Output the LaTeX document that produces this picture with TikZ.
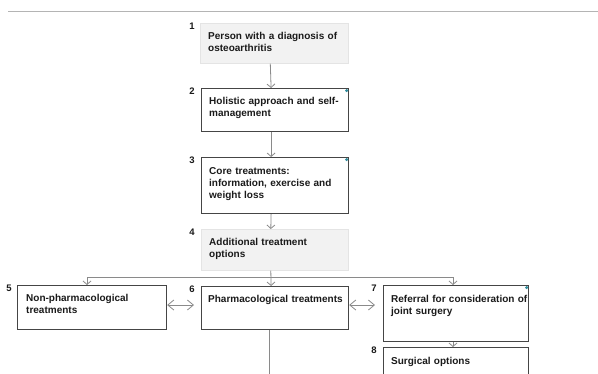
\documentclass[tikz,border=0pt]{standalone}
\usepackage{fontspec}
\setmainfont{Liberation Sans}
\usetikzlibrary{arrows.meta,calc}
\definecolor{boxline}{HTML}{454545}
\definecolor{boxfill}{HTML}{F2F2F2}
\definecolor{boxedge}{HTML}{E4E4E4}
\definecolor{conn}{HTML}{8A8A8A}
\definecolor{dotc}{HTML}{2E8A9A}
\definecolor{rulec}{HTML}{B4B4B4}
\definecolor{ink}{HTML}{1A1A1A}
\begin{document}
\begin{tikzpicture}[x=1pt,y=-1pt,
  framed/.style={draw=boxline, line width=1.2pt, fill=white, anchor=north west, inner sep=0pt},
  shaded/.style={draw=boxedge, line width=0.6pt, fill=boxfill, anchor=north west, inner sep=0pt},
  txt/.style={anchor=base west, inner sep=0pt, text width=140pt, align=left, text=ink,
    font=\fontsize{10pt}{12pt}\selectfont\bfseries},
  num/.style={inner sep=0pt, text=ink, font=\fontsize{9.5pt}{10pt}\selectfont\bfseries},
  conn/.style={draw=conn, line width=0.8pt},
  tip/.style={-{Straight Barb[length=3.5pt,width=8pt]}},
  dtip/.style={{Straight Barb[length=6pt,width=10pt]}-{Straight Barb[length=6pt,width=10pt]}},
  dot/.style={fill=dotc}
]
\useasboundingbox (0,0) rectangle (598,373);
\clip (0,0) rectangle (598,373);
\fill[white] (0,0) rectangle (598,373);

% top rule
\coordinate (rl) at (8,11);
\coordinate (rr) at (598,11);
\draw[rulec, line width=1pt] (rl) -- (rr);

% boxes
\node[shaded, minimum width=148pt, minimum height=40pt] (b1) at (200,23) {};
\node[framed, minimum width=147pt, minimum height=43pt] (b2) at (201,88) {};
\node[framed, minimum width=147pt, minimum height=56pt] (b3) at (201,157) {};
\node[shaded, minimum width=147pt, minimum height=41pt] (b4) at (201,229) {};
\node[framed, minimum width=149pt, minimum height=44pt] (b5) at (17,285) {};
\node[framed, minimum width=147pt, minimum height=43pt] (b6) at (201,286) {};
\node[framed, minimum width=145pt, minimum height=56pt] (b7) at (383,285) {};
\node[framed, minimum width=145pt, minimum height=45pt] (b8) at (383,347) {};

% texts
\node[txt] (t1) at ($(b1.north west)+(8,16.5)$) {Person with a diagnosis of\\osteoarthritis};
\node[txt] (t2) at ($(b2.north west)+(8,16.5)$) {Holistic approach and self-\\management};
\node[txt] (t3) at ($(b3.north west)+(8,17)$) {Core treatments:\\information, exercise and\\weight loss};
\node[txt] (t4) at ($(b4.north west)+(8,16.5)$) {Additional treatment\\options};
\node[txt] (t5) at ($(b5.north west)+(9,16.5)$) {Non-pharmacological\\treatments};
\node[txt] (t6) at ($(b6.north west)+(7,16.5)$) {Pharmacological treatments};
\node[txt] (t7) at ($(b7.north west)+(8,17.5)$) {Referral for consideration of\\joint surgery};
\node[txt] (t8) at ($(b8.north west)+(8,17)$) {Surgical options};

% numbers
\node[num] (n1) at (192,26) {1};
\node[num] (n2) at (192,91) {2};
\node[num] (n3) at (192,160) {3};
\node[num] (n4) at (192,232) {4};
\node[num] (n5) at (9,288) {5};
\node[num] (n6) at (192,289) {6};
\node[num] (n7) at (374,288) {7};
\node[num] (n8) at (374,350) {8};

% teal markers
\fill[dot] ($(b2.north east)+(-2.5,2.5)$) circle (1.7pt);
\fill[dot] ($(b3.north east)+(-2.5,2.5)$) circle (1.7pt);
\fill[dot] ($(b7.north east)+(-2.5,2.5)$) circle (1.7pt);

% connectors
\draw[conn, tip] ([xshift=-4pt]b1.south) -- ([xshift=-4pt]b2.north);
\draw[conn, tip] ([xshift=-4pt]b2.south) -- ([xshift=-4pt]b3.north);
\draw[conn, tip] ([xshift=-4pt]b3.south) -- ([xshift=-4pt]b4.north);
\draw[conn, tip] ([xshift=-4pt]b4.south) -- ([xshift=-4pt]b6.north);

\coordinate (jl) at (87,277);
\coordinate (jr) at (453,277);
\draw[conn] (jl) -- (jr);
\draw[conn, tip] (jl) -- (jl |- b5.north);
\draw[conn, tip] (jr) -- (jr |- b7.north);

\draw[conn, tip] (jr |- b7.south) -- (jr |- b8.north);

\coordinate (down) at (269,380);
\draw[conn] (down |- b6.south) -- (down);

\draw[conn, dtip, shorten >=7pt] (b5.east |- 0,305) -- (b6.west |- 0,305);
\draw[conn, dtip, shorten >=8pt] (b6.east |- 0,305) -- (b7.west |- 0,305);
\end{tikzpicture}
\end{document}
